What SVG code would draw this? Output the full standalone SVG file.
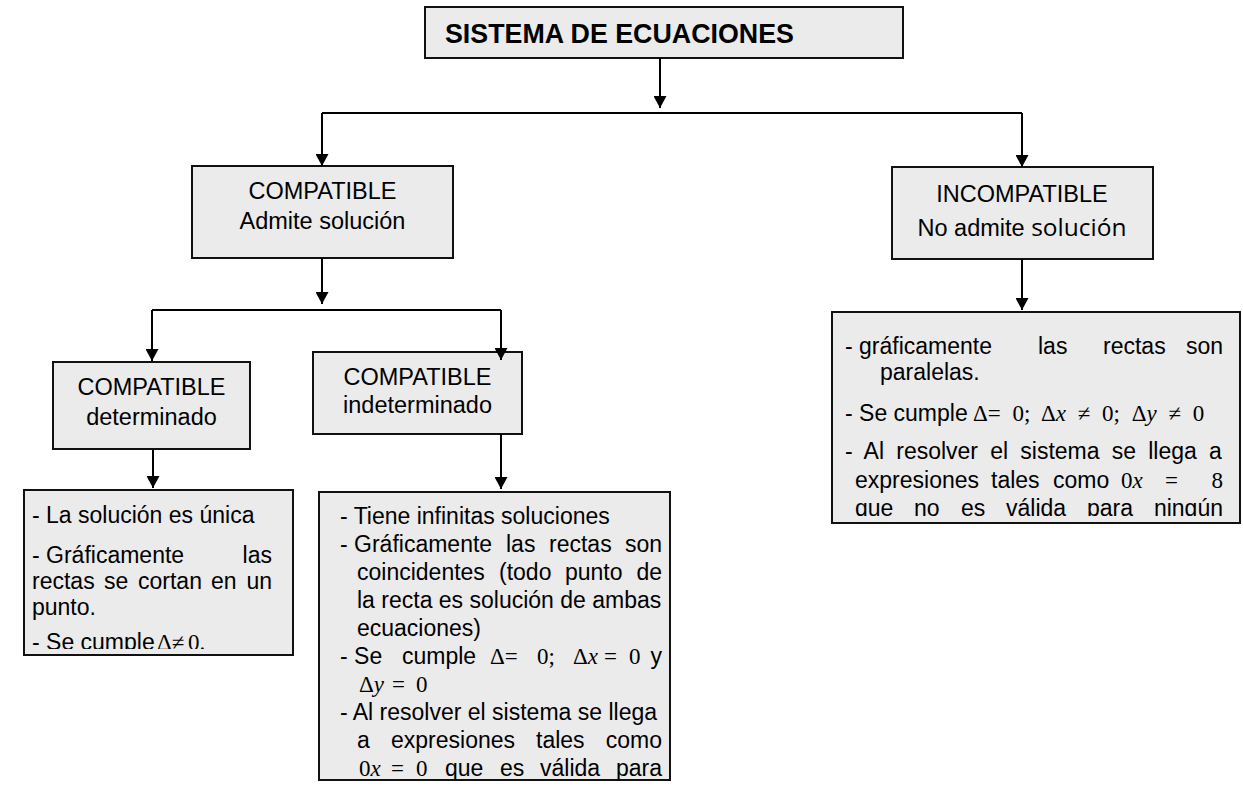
<svg xmlns="http://www.w3.org/2000/svg" width="1243" height="788" viewBox="0 0 1243 788">
<style>
.bg{fill:#ffffff}
.box{fill:#ebebeb;stroke:#111111;stroke-width:2}
.t{font-family:"Liberation Sans",Arial,sans-serif;font-size:23px;fill:#000000}
.n{font-family:"Liberation Sans",Arial,sans-serif;font-size:23.5px;fill:#000000;text-anchor:middle}
.ttl{font-family:"Liberation Sans",Arial,sans-serif;font-size:26.8px;font-weight:bold;fill:#000000}
.m{font-family:"Liberation Serif","Times New Roman",serif;font-size:23px;fill:#000000}
.i{font-style:italic}
.e{text-anchor:end}
.c{fill:none;stroke:#000000;stroke-width:2}
</style>
<defs>
<marker id="ah" markerUnits="userSpaceOnUse" markerWidth="13" markerHeight="13" refX="12" refY="6.5" orient="auto"><path d="M0,0 L12,6.5 L0,13 Z" fill="#000000"/></marker>
<clipPath id="clipL"><rect x="24" y="491" width="268" height="158"/></clipPath>
<clipPath id="clipM"><rect x="320" y="493" width="349" height="286"/></clipPath>
<clipPath id="clipR"><rect x="833" y="313" width="406" height="203"/></clipPath>
</defs>
<rect class="bg" x="0" y="0" width="1243" height="788"/>

<g id="n-sistema">
<rect class="box" x="425" y="7" width="478" height="51"/>
<text class="ttl" x="445" y="43">SISTEMA DE ECUACIONES</text>
</g>

<g id="n-compatible">
<rect class="box" x="192" y="166" width="261" height="92"/>
<text class="n" x="322.5" y="199">COMPATIBLE</text>
<text class="n" x="322.5" y="229">Admite solución</text>
</g>

<g id="n-incompatible">
<rect class="box" x="892" y="167" width="261" height="92"/>
<text class="n" x="1022" y="202">INCOMPATIBLE</text>
<text class="n" x="1022" y="236">No admite <tspan style="font-family:'Open Sans','Noto Sans',sans-serif;font-size:24.5px">solución</tspan></text>
</g>

<g id="n-determinado">
<rect class="box" x="53" y="362" width="197" height="87"/>
<text class="n" x="151.5" y="395">COMPATIBLE</text>
<text class="n" x="151.5" y="425">determinado</text>
</g>

<g id="n-indeterminado">
<rect class="box" x="313" y="352" width="209" height="82"/>
<text class="n" x="417.5" y="385">COMPATIBLE</text>
<text class="n" x="417.5" y="413">indeterminado</text>
</g>

<g id="n-det-detalle">
<rect class="box" x="24" y="490" width="269" height="165"/>
<g clip-path="url(#clipL)">
<text class="t" x="32" y="523">- La solución es única</text>
<text class="t" x="32" y="563">- Gráficamente</text>
<text class="t e" x="272" y="563">las</text>
<text class="t" x="32" y="589">rectas</text>
<text class="t" x="104" y="589">se</text>
<text class="t" x="138" y="589">cortan</text>
<text class="t" x="211" y="589">en</text>
<text class="t e" x="272" y="589">un</text>
<text class="t" x="32" y="615">punto.</text>
<text class="t" x="32" y="650">- Se cumple</text>
<text class="m" x="157" y="650">Δ≠</text>
<text class="m" x="188" y="650">0.</text>
</g>
</g>

<g id="n-indet-detalle">
<rect class="box" x="319" y="492" width="351" height="288"/>
<g clip-path="url(#clipM)">
<text class="t" x="340" y="524">- Tiene infinitas soluciones</text>
<text class="t" x="340" y="552">- Gráficamente</text>
<text class="t" x="506" y="552">las</text>
<text class="t" x="549" y="552">rectas</text>
<text class="t e" x="662" y="552">son</text>
<text class="t" x="357" y="580">coincidentes</text>
<text class="t" x="499" y="580">(todo</text>
<text class="t" x="565" y="580">punto</text>
<text class="t e" x="662" y="580">de</text>
<text class="t" x="357" y="608">la recta es solución de ambas</text>
<text class="t" x="357" y="636">ecuaciones)</text>
<text class="t" x="340" y="664">- Se</text>
<text class="t" x="402" y="664">cumple</text>
<text class="m" x="490" y="664">Δ=</text>
<text class="m" x="537" y="664">0;</text>
<text class="m" x="573" y="664">Δ<tspan class="i">x</tspan></text>
<text class="m" x="604" y="664">=</text>
<text class="m" x="629" y="664">0</text>
<text class="t e" x="662" y="664">y</text>
<text class="m" x="359" y="692">Δ<tspan class="i">y</tspan></text>
<text class="m" x="392" y="692">=</text>
<text class="m" x="416" y="692">0</text>
<text class="t" x="340" y="720">- Al resolver el sistema se llega</text>
<text class="t" x="357" y="748">a</text>
<text class="t" x="391" y="748">expresiones</text>
<text class="t" x="536" y="748">tales</text>
<text class="t e" x="662" y="748">como</text>
<text class="m" x="359" y="776">0<tspan class="i">x</tspan></text>
<text class="m" x="391" y="776">=</text>
<text class="m" x="416" y="776">0</text>
<text class="t" x="445" y="776">que</text>
<text class="t" x="500" y="776">es</text>
<text class="t" x="540" y="776">válida</text>
<text class="t e" x="662" y="776">para</text>
</g>
</g>

<g id="n-incomp-detalle">
<rect class="box" x="832" y="312" width="408" height="211"/>
<g clip-path="url(#clipR)">
<text class="t" x="845" y="354">- gráficamente</text>
<text class="t" x="1038" y="354">las</text>
<text class="t" x="1103" y="354">rectas</text>
<text class="t e" x="1223" y="354">son</text>
<text class="t" x="880" y="380">paralelas.</text>
<text class="t" x="845" y="421">- Se cumple</text>
<text class="m" x="973" y="421" word-spacing="6">Δ= 0; Δ<tspan class="i">x</tspan> ≠ 0; Δ<tspan class="i">y</tspan> ≠ 0</text>
<text class="t" x="845" y="459" word-spacing="5.8">- Al resolver el sistema se llega a</text>
<text class="t" x="855" y="488">expresiones</text>
<text class="t" x="991" y="488">tales</text>
<text class="t" x="1053" y="488">como</text>
<text class="m" x="1121" y="488">0<tspan class="i">x</tspan></text>
<text class="m" x="1165" y="488">=</text>
<text class="m e" x="1223" y="488">8</text>
<text class="t" x="855" y="516">que</text>
<text class="t" x="914" y="516">no</text>
<text class="t" x="961" y="516">es</text>
<text class="t" x="1006" y="516">válida</text>
<text class="t" x="1087" y="516">para</text>
<text class="t e" x="1223" y="516">ningún</text>
</g>
</g>

<g id="connectors">
<path class="c" d="M660,58 V108" marker-end="url(#ah)"/>
<path class="c" d="M322,113 H1022"/>
<path class="c" d="M322,113 V166" marker-end="url(#ah)"/>
<path class="c" d="M1022,113 V167" marker-end="url(#ah)"/>
<path class="c" d="M322,258 V304" marker-end="url(#ah)"/>
<path class="c" d="M152,310 H501"/>
<path class="c" d="M152,310 V361" marker-end="url(#ah)"/>
<path class="c" d="M501,310 V360" marker-end="url(#ah)"/>
<path class="c" d="M153,449 V488" marker-end="url(#ah)"/>
<path class="c" d="M501,434 V489" marker-end="url(#ah)"/>
<path class="c" d="M1022,259 V310" marker-end="url(#ah)"/>
</g>
</svg>
